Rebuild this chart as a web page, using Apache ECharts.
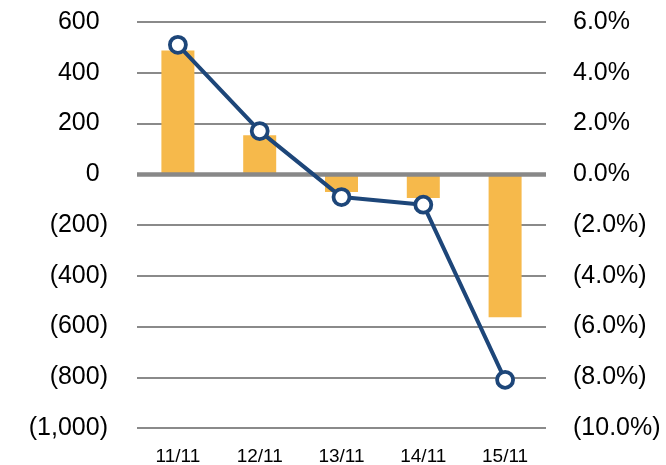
<!DOCTYPE html>
<html><head><meta charset="utf-8">
<script src="https://cdn.jsdelivr.net/npm/echarts@6/dist/echarts.min.js"></script>
<style>html,body{margin:0;padding:0;background:#fff}#c{width:666px;height:465px}</style>
</head><body><div id="c"></div>
<script>
const categories = ['11/11','12/11','13/11','14/11','15/11'];
const barValues = [488, 154, -70, -94, -564];
const lineValues = [5.1, 1.7, -0.9, -1.2, -8.1];

function fmtNum(v){
  const s = Math.abs(v).toLocaleString('en-US');
  return v < 0 ? '(' + s + ')' : s + '{h|)}';
}
function fmtPct(v){
  const s = Math.abs(v).toFixed(1) + '%';
  return v < 0 ? '(' + s + ')' : s;
}
const FONT = 'Liberation Sans';
const chart = echarts.init(document.getElementById('c'));
chart.setOption({
  animation:false,
  grid:{left:137, right:120, top:22, bottom:37, containLabel:false, outerBoundsMode:'none'},
  xAxis:{type:'category', data:categories,
    axisLine:{onZero:false, show:false},
    axisTick:{show:false},
    axisLabel:{color:'#000', fontFamily:FONT, fontSize:19, margin:19}
  },
  yAxis:[
    {type:'value', min:-1000, max:600, interval:200,
     axisLabel:{formatter:fmtNum, color:'#000', fontFamily:FONT, fontSize:25, margin:29,
       showMinLabel:true, showMaxLabel:true, hideOverlap:false,
       rich:{h:{color:'rgba(0,0,0,0)', fontFamily:FONT, fontSize:25}}},
     splitLine:{lineStyle:{color:'#8a8a8a', width:1.8}},
     axisLine:{show:false}, axisTick:{show:false}},
    {type:'value', min:-10, max:6, interval:2,
     axisLabel:{formatter:fmtPct, color:'#000', fontFamily:FONT, fontSize:25, margin:27,
       showMinLabel:true, showMaxLabel:true, hideOverlap:false},
     splitLine:{show:false}, axisLine:{show:false}, axisTick:{show:false}}
  ],
  series:[
    {type:'bar', data:barValues, yAxisIndex:0, barWidth:33, itemStyle:{color:'#F6B94B'}, z:1,
     markLine:{silent:true, symbol:'none', label:{show:false},
       lineStyle:{color:'#888888', width:4.5, type:'solid'}, data:[{yAxis:0}]}},
    {type:'line', data:lineValues, yAxisIndex:1, symbol:'circle', symbolSize:16,
     lineStyle:{color:'#1D4679', width:4},
     itemStyle:{color:'#ffffff', borderColor:'#1D4679', borderWidth:3.8}, z:5}
  ]
});
</script></body></html>
